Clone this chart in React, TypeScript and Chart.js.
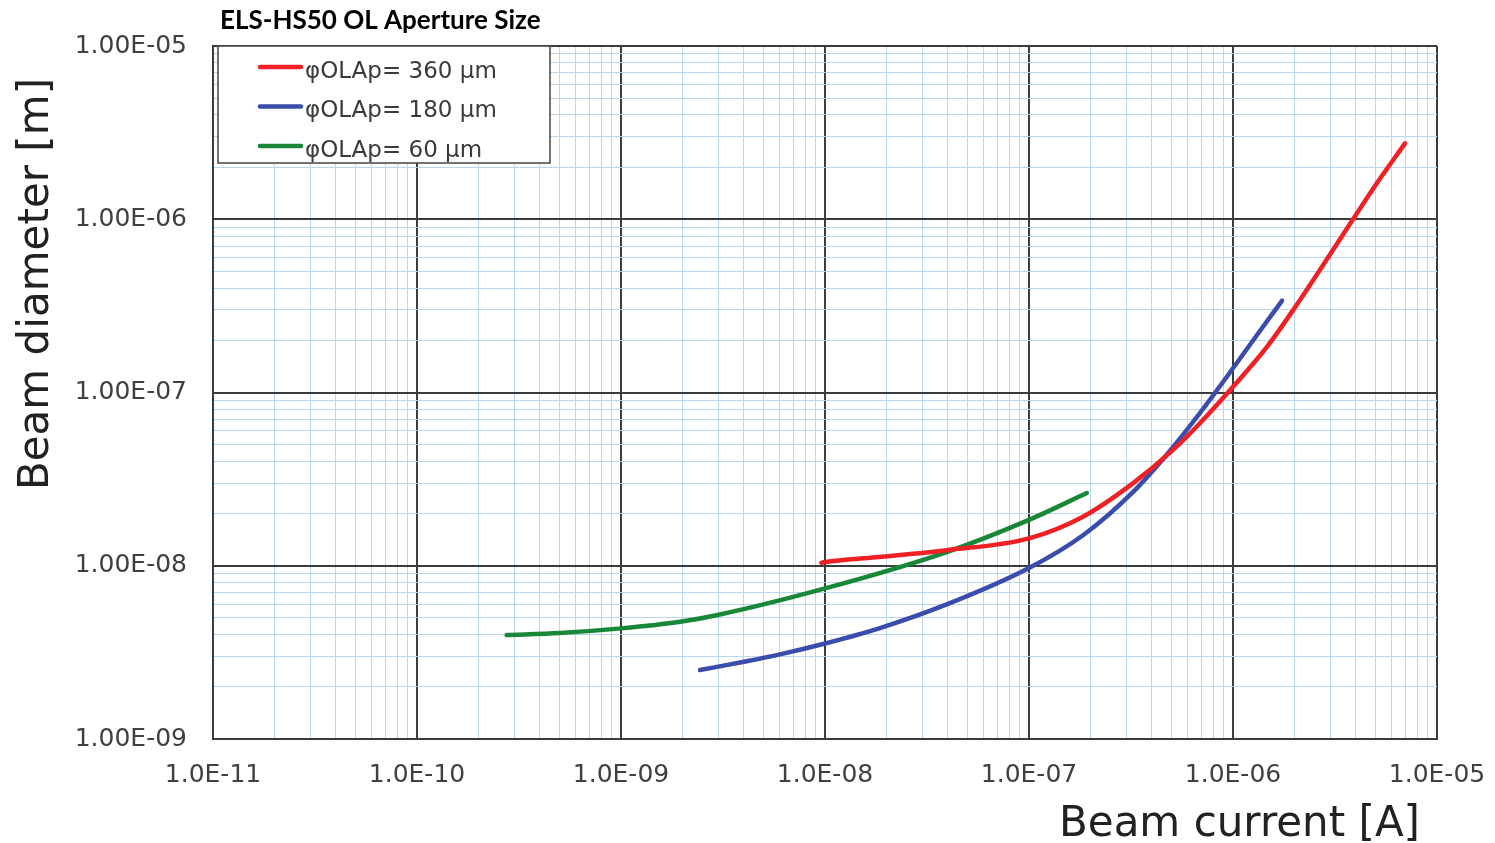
import React, { useEffect, useRef } from 'react';
import { Chart, registerables } from 'chart.js';

Chart.register(...registerables);

// ---------- data ----------
const chartTitle = 'ELS-HS50 OL Aperture Size';
const xAxisTitle = 'Beam current [A]';
const yAxisTitle = 'Beam diameter [m]';

const xDecades = [-11, -10, -9, -8, -7, -6, -5];
const xTickLabels = ['1.0E-11', '1.0E-10', '1.0E-09', '1.0E-08', '1.0E-07', '1.0E-06', '1.0E-05'];
const yDecades = [-9, -8, -7, -6, -5];
const yTickLabels = ['1.00E-09', '1.00E-08', '1.00E-07', '1.00E-06', '1.00E-05'];

const seriesLabels = ['φOLAp= 360 μm', 'φOLAp= 180 μm', 'φOLAp= 60 μm'];
const seriesColors = ['rgb(240,32,36)', 'rgb(58,76,172)', 'rgb(24,136,56)'];

const ap360Current = [9.6e-9, 1.0e-8, 1.77e-8, 3.95e-8, 1.0e-7, 1.84e-7, 3.24e-7, 5.08e-7, 6.9e-7, 1.0e-6, 1.47e-6, 2.13e-6, 3.09e-6, 5.08e-6, 6.97e-6];
const ap360Diameter = [1.04e-8, 1.05e-8, 1.12e-8, 1.23e-8, 1.44e-8, 1.92e-8, 3.0e-8, 4.66e-8, 6.67e-8, 1.08e-7, 1.84e-7, 3.42e-7, 6.64e-7, 1.62e-6, 2.74e-6];

const ap180Current = [2.44e-9, 4.13e-9, 6.01e-9, 1.0e-8, 1.86e-8, 3.95e-8, 1.0e-7, 1.84e-7, 3.24e-7, 4.74e-7, 6.9e-7, 1.0e-6, 1.36e-6, 1.74e-6];
const ap180Diameter = [2.5e-9, 2.81e-9, 3.08e-9, 3.56e-9, 4.37e-9, 5.98e-9, 9.7e-9, 1.5e-8, 2.67e-8, 4.39e-8, 7.64e-8, 1.38e-7, 2.28e-7, 3.39e-7];

const ap60Current = [2.75e-10, 5.0e-10, 1.0e-9, 1.95e-9, 2.98e-9, 1.0e-8, 3.95e-8, 1.0e-7, 1.92e-7];
const ap60Diameter = [3.98e-9, 4.09e-9, 4.35e-9, 4.75e-9, 5.2e-9, 7.4e-9, 1.2e-8, 1.84e-8, 2.63e-8];

const seriesCurrents = [ap360Current, ap180Current, ap60Current];
const seriesDiameters = [ap360Diameter, ap180Diameter, ap60Diameter];

// ---------- styles ----------
const MAJOR_GRID = '#3c3c3c';
const MINOR_GRID = '#b7d6ef';
const TICK_FONT = { family: '"DejaVu Sans", sans-serif', size: 25 };
const TICK_COLOR = '#404040';

const buildLogTicks = (decades: number[]) => {
  const t: { value: number; major: boolean }[] = [];
  decades.forEach((e, i) => {
    for (let m = 1; m <= 9; m++) {
      if (i === decades.length - 1 && m > 1) break;
      t.push({ value: m * Math.pow(10, e), major: m === 1 });
    }
  });
  return t;
};

const decadeLabel = (value: number, decades: number[], labels: string[]) => {
  const lg = Math.log10(value);
  const r = Math.round(lg);
  if (Math.abs(lg - r) > 1e-6) return '';
  const idx = r - decades[0];
  return labels[idx] ?? '';
};

const decorPlugin = {
  id: 'decor',
  afterDraw(chart: any) {
    const { ctx, chartArea: a } = chart;
    ctx.save();
    // title
    ctx.fillStyle = '#000';
    ctx.font = 'bold 26px Lato, sans-serif';
    ctx.textAlign = 'left';
    ctx.textBaseline = 'middle';
    ctx.fillText(chartTitle, a.left + 7, 21);

    // legend
    const bx = a.left + 5;
    const by = a.top;
    const bw = 332;
    const bh = 117;
    ctx.fillStyle = '#fff';
    ctx.fillRect(bx, by, bw, bh);
    ctx.strokeStyle = '#444';
    ctx.lineWidth = 1.5;
    ctx.strokeRect(bx, by, bw, bh);
    ctx.font = '23px "DejaVu Sans", sans-serif';
    ctx.textBaseline = 'middle';
    seriesLabels.forEach((lbl, i) => {
      const ly = by + 21 + i * 39.5;
      ctx.strokeStyle = seriesColors[i];
      ctx.lineWidth = 4.5;
      ctx.lineCap = 'round';
      ctx.beginPath();
      ctx.moveTo(bx + 42, ly);
      ctx.lineTo(bx + 83, ly);
      ctx.stroke();
      ctx.fillStyle = '#3a3a3a';
      ctx.fillText(lbl, bx + 87, ly + 5);
    });

    // axis titles
    ctx.fillStyle = '#222';
    ctx.font = '42px "DejaVu Sans", sans-serif';
    ctx.textBaseline = 'alphabetic';
    ctx.textAlign = 'right';
    ctx.fillText(xAxisTitle, a.right - 17, a.bottom + 97);
    ctx.translate(a.left - 165, a.top + 238);
    ctx.rotate(-Math.PI / 2);
    ctx.textAlign = 'center';
    ctx.fillText(yAxisTitle, 0, 0);
    ctx.restore();
  },
};

export default function App() {
  const ref = useRef<HTMLCanvasElement | null>(null);

  useEffect(() => {
    document.body.style.margin = '0';
    const canvas = ref.current;
    if (!canvas) return;
    const datasets = seriesLabels.map((label, i) => ({
      label,
      data: seriesCurrents[i].map((x, j) => ({ x, y: seriesDiameters[i][j] })),
      borderColor: seriesColors[i],
      backgroundColor: seriesColors[i],
      borderWidth: 4.5,
      borderCapStyle: 'round' as const,
      pointRadius: 0,
      cubicInterpolationMode: 'monotone' as const,
      fill: false,
    }));

    const gridColor = (c: any) => (c.tick && c.tick.major ? MAJOR_GRID : MINOR_GRID);
    const gridWidth = (c: any) => (c.tick && c.tick.major ? 2 : 1);
    const zeroPad = (scale: any) => {
      scale.paddingLeft = 0;
      scale.paddingRight = 0;
      scale.paddingTop = 0;
      scale.paddingBottom = 0;
    };

    const chart = new Chart(canvas, {
      type: 'line',
      data: { datasets },
      options: {
        animation: false,
        responsive: false,
        devicePixelRatio: 1,
        layout: { padding: { left: 0, top: 46, right: 58, bottom: 0 } },
        plugins: {
          legend: { display: false },
          title: { display: false },
          tooltip: { enabled: false },
        },
        scales: {
          x: {
            type: 'logarithmic',
            min: Math.pow(10, xDecades[0]),
            max: Math.pow(10, xDecades[xDecades.length - 1]),
            afterBuildTicks: (scale: any) => {
              scale.ticks = buildLogTicks(xDecades);
            },
            afterFit: (scale: any) => {
              scale.height = 104;
              zeroPad(scale);
            },
            grid: { color: gridColor, lineWidth: gridWidth, drawTicks: false },
            border: { display: true, color: MAJOR_GRID, width: 2 },
            ticks: {
              autoSkip: false,
              maxRotation: 0,
              minRotation: 0,
              padding: 21,
              color: TICK_COLOR,
              font: TICK_FONT,
              callback: (v: any) => decadeLabel(Number(v), xDecades, xTickLabels),
            },
          },
          y: {
            type: 'logarithmic',
            min: Math.pow(10, yDecades[0]),
            max: Math.pow(10, yDecades[yDecades.length - 1]),
            afterBuildTicks: (scale: any) => {
              scale.ticks = buildLogTicks(yDecades);
            },
            afterFit: (scale: any) => {
              scale.width = 213;
              zeroPad(scale);
            },
            grid: { color: gridColor, lineWidth: gridWidth, drawTicks: false },
            border: { display: true, color: MAJOR_GRID, width: 2 },
            ticks: {
              autoSkip: false,
              padding: 26,
              color: TICK_COLOR,
              font: TICK_FONT,
              callback: (v: any) => decadeLabel(Number(v), yDecades, yTickLabels),
            },
          },
        },
      },
      plugins: [decorPlugin],
    });
    return () => chart.destroy();
  }, []);

  return (
    <div style={{ position: 'fixed', left: 0, top: 0, width: 1495, height: 843, background: '#fff' }}>
      <canvas ref={ref} width={1495} height={843} />
    </div>
  );
}
